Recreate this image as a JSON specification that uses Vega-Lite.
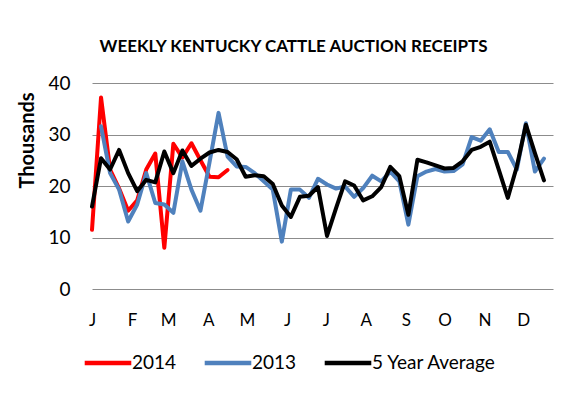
{
  "$schema": "https://vega.github.io/schema/vega-lite/v6.json",
  "width": 461,
  "height": 206,
  "autosize": {"type": "none"},
  "padding": {"left": 92, "top": 83, "right": 10, "bottom": 130},
  "background": "white",
  "title": {"text": "WEEKLY KENTUCKY CATTLE AUCTION RECEIPTS", "font": "Lato", "fontSize": 17, "fontWeight": "bold", "color": "#000000", "anchor": "middle", "dx": -29, "offset": 18},
  "config": {"view": {"stroke": null}, "font": "Lato"},
  "data": {"values": [
    {"week": 1, "series": "2014", "value": 11.5},
    {"week": 2, "series": "2014", "value": 37.2},
    {"week": 3, "series": "2014", "value": 23.2},
    {"week": 4, "series": "2014", "value": 19.5},
    {"week": 5, "series": "2014", "value": 15.2},
    {"week": 6, "series": "2014", "value": 17.2},
    {"week": 7, "series": "2014", "value": 23.2},
    {"week": 8, "series": "2014", "value": 26.3},
    {"week": 9, "series": "2014", "value": 8.0},
    {"week": 10, "series": "2014", "value": 28.2},
    {"week": 11, "series": "2014", "value": 25.5},
    {"week": 12, "series": "2014", "value": 28.3},
    {"week": 13, "series": "2014", "value": 25.0},
    {"week": 14, "series": "2014", "value": 21.8},
    {"week": 15, "series": "2014", "value": 21.7},
    {"week": 16, "series": "2014", "value": 23.1},
    {"week": 2, "series": "2013", "value": 31.6},
    {"week": 3, "series": "2013", "value": 22.5},
    {"week": 4, "series": "2013", "value": 19.3},
    {"week": 5, "series": "2013", "value": 13.1},
    {"week": 6, "series": "2013", "value": 16.4},
    {"week": 7, "series": "2013", "value": 22.5},
    {"week": 8, "series": "2013", "value": 16.7},
    {"week": 9, "series": "2013", "value": 16.4},
    {"week": 10, "series": "2013", "value": 14.8},
    {"week": 11, "series": "2013", "value": 24.8},
    {"week": 12, "series": "2013", "value": 19.3},
    {"week": 13, "series": "2013", "value": 15.2},
    {"week": 14, "series": "2013", "value": 24.6},
    {"week": 15, "series": "2013", "value": 34.2},
    {"week": 16, "series": "2013", "value": 25.7},
    {"week": 17, "series": "2013", "value": 23.8},
    {"week": 18, "series": "2013", "value": 23.7},
    {"week": 19, "series": "2013", "value": 22.5},
    {"week": 20, "series": "2013", "value": 20.9},
    {"week": 21, "series": "2013", "value": 19.3},
    {"week": 22, "series": "2013", "value": 9.2},
    {"week": 23, "series": "2013", "value": 19.3},
    {"week": 24, "series": "2013", "value": 19.3},
    {"week": 25, "series": "2013", "value": 17.7},
    {"week": 26, "series": "2013", "value": 21.4},
    {"week": 27, "series": "2013", "value": 20.3},
    {"week": 28, "series": "2013", "value": 19.5},
    {"week": 29, "series": "2013", "value": 19.9},
    {"week": 30, "series": "2013", "value": 17.9},
    {"week": 31, "series": "2013", "value": 19.6},
    {"week": 32, "series": "2013", "value": 22.0},
    {"week": 33, "series": "2013", "value": 20.9},
    {"week": 34, "series": "2013", "value": 22.8},
    {"week": 35, "series": "2013", "value": 20.9},
    {"week": 36, "series": "2013", "value": 12.5},
    {"week": 37, "series": "2013", "value": 21.9},
    {"week": 38, "series": "2013", "value": 22.8},
    {"week": 39, "series": "2013", "value": 23.3},
    {"week": 40, "series": "2013", "value": 22.8},
    {"week": 41, "series": "2013", "value": 22.9},
    {"week": 42, "series": "2013", "value": 24.2},
    {"week": 43, "series": "2013", "value": 29.5},
    {"week": 44, "series": "2013", "value": 28.8},
    {"week": 45, "series": "2013", "value": 31.0},
    {"week": 46, "series": "2013", "value": 26.6},
    {"week": 47, "series": "2013", "value": 26.6},
    {"week": 48, "series": "2013", "value": 23.2},
    {"week": 49, "series": "2013", "value": 32.2},
    {"week": 50, "series": "2013", "value": 22.8},
    {"week": 51, "series": "2013", "value": 25.3},
    {"week": 1, "series": "5 Year Average", "value": 16.0},
    {"week": 2, "series": "5 Year Average", "value": 25.4},
    {"week": 3, "series": "5 Year Average", "value": 23.2},
    {"week": 4, "series": "5 Year Average", "value": 27.0},
    {"week": 5, "series": "5 Year Average", "value": 22.5},
    {"week": 6, "series": "5 Year Average", "value": 19.0},
    {"week": 7, "series": "5 Year Average", "value": 21.2},
    {"week": 8, "series": "5 Year Average", "value": 20.7},
    {"week": 9, "series": "5 Year Average", "value": 26.7},
    {"week": 10, "series": "5 Year Average", "value": 22.5},
    {"week": 11, "series": "5 Year Average", "value": 26.9},
    {"week": 12, "series": "5 Year Average", "value": 23.9},
    {"week": 13, "series": "5 Year Average", "value": 25.3},
    {"week": 14, "series": "5 Year Average", "value": 26.5},
    {"week": 15, "series": "5 Year Average", "value": 27.0},
    {"week": 16, "series": "5 Year Average", "value": 26.6},
    {"week": 17, "series": "5 Year Average", "value": 25.2},
    {"week": 18, "series": "5 Year Average", "value": 21.8},
    {"week": 19, "series": "5 Year Average", "value": 22.1},
    {"week": 20, "series": "5 Year Average", "value": 21.9},
    {"week": 21, "series": "5 Year Average", "value": 20.4},
    {"week": 22, "series": "5 Year Average", "value": 16.2},
    {"week": 23, "series": "5 Year Average", "value": 14.0},
    {"week": 24, "series": "5 Year Average", "value": 17.9},
    {"week": 25, "series": "5 Year Average", "value": 18.1},
    {"week": 26, "series": "5 Year Average", "value": 19.8},
    {"week": 27, "series": "5 Year Average", "value": 10.3},
    {"week": 28, "series": "5 Year Average", "value": 15.7},
    {"week": 29, "series": "5 Year Average", "value": 20.9},
    {"week": 30, "series": "5 Year Average", "value": 20.1},
    {"week": 31, "series": "5 Year Average", "value": 17.2},
    {"week": 32, "series": "5 Year Average", "value": 18.0},
    {"week": 33, "series": "5 Year Average", "value": 19.8},
    {"week": 34, "series": "5 Year Average", "value": 23.7},
    {"week": 35, "series": "5 Year Average", "value": 21.9},
    {"week": 36, "series": "5 Year Average", "value": 14.4},
    {"week": 37, "series": "5 Year Average", "value": 25.1},
    {"week": 38, "series": "5 Year Average", "value": 24.6},
    {"week": 39, "series": "5 Year Average", "value": 24.0},
    {"week": 40, "series": "5 Year Average", "value": 23.4},
    {"week": 41, "series": "5 Year Average", "value": 23.5},
    {"week": 42, "series": "5 Year Average", "value": 24.8},
    {"week": 43, "series": "5 Year Average", "value": 27.0},
    {"week": 44, "series": "5 Year Average", "value": 27.6},
    {"week": 45, "series": "5 Year Average", "value": 28.6},
    {"week": 46, "series": "5 Year Average", "value": 23.2},
    {"week": 47, "series": "5 Year Average", "value": 17.7},
    {"week": 48, "series": "5 Year Average", "value": 23.8},
    {"week": 49, "series": "5 Year Average", "value": 31.9},
    {"week": 50, "series": "5 Year Average", "value": 26.4},
    {"week": 51, "series": "5 Year Average", "value": 21.1}
  ]},
  "mark": {"type": "line", "strokeWidth": 4, "strokeCap": "round", "strokeJoin": "round"},
  "encoding": {
    "x": {
      "field": "week", "type": "quantitative",
      "scale": {"domain": [1, 52], "nice": false, "zero": false},
      "axis": {
        "values": [1, 5.43, 9.43, 13.86, 18.14, 22.57, 26.86, 31.29, 35.71, 40, 44.43, 48.71],
        "labelExpr": "['J','F','M','A','M','J','J','A','S','O','N','D'][round((datum.value-1)*7/30.4)]",
        "grid": false, "ticks": false, "domain": false, "title": null,
        "labelFont": "Lato", "labelFontSize": 17, "labelColor": "#000000",
        "labelPadding": 23, "labelOverlap": false, "labelFlush": false
      }
    },
    "y": {
      "field": "value", "type": "quantitative",
      "scale": {"domain": [0, 40], "nice": false},
      "axis": {
        "values": [0, 10, 20, 30, 40],
        "grid": true, "gridColor": "#8c8c8c", "gridWidth": 1,
        "ticks": false, "domain": false,
        "labelFont": "Lato", "labelFontSize": 19, "labelColor": "#000000", "labelPadding": 22,
        "title": "Thousands", "titleFont": "Lato", "titleFontSize": 20, "titleFontWeight": "bold", "titleColor": "#000000",
        "titleX": -65, "titleY": 57, "titleAngle": 270, "titleAlign": "center", "titleBaseline": "middle"
      }
    },
    "color": {
      "field": "series", "type": "nominal",
      "scale": {"domain": ["2014", "2013", "5 Year Average"], "range": ["#FF0000", "#4F81BD", "#000000"]},
      "legend": {
        "title": null, "orient": "none", "direction": "horizontal",
        "legendX": -10, "legendY": 254,
        "symbolType": "stroke", "symbolSize": 2170, "symbolStrokeWidth": 4.5,
        "labelFont": "Lato", "labelFontSize": 19, "labelColor": "#000000", "labelOffset": -2,
        "columnPadding": 18
      }
    }
  }
}
